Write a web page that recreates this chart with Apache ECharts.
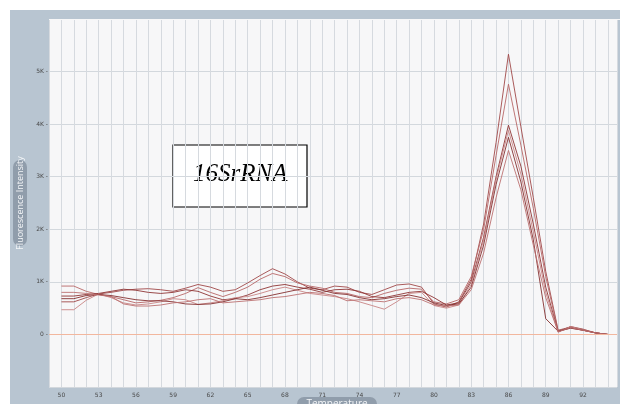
<!DOCTYPE html>
<html><head><meta charset="utf-8">
<script src="https://cdn.jsdelivr.net/npm/echarts@6/dist/echarts.min.js"></script>
<style>html,body{margin:0;padding:0;background:#fff}#c{width:620px;height:404px}</style>
</head><body><div id="c"></div>
<script>
var temps = [50,51,52,53,54,55,56,57,58,59,60,61,62,63,64,65,66,67,68,69,70,71,72,73,74,75,76,77,78,79,80,81,82,83,84,85,86,87,88,89,90,91,92,93,94];
var xTickLabels = [50,53,56,59,62,65,68,71,74,77,80,83,86,89,92];
var yTickLabels = ['0','1K','2K','3K','4K','5K'];
var curveA = [620,620,700,770,800,840,860,870,850,820,880,950,900,820,850,980,1120,1250,1150,1000,880,850,920,900,800,760,850,940,960,900,580,520,620,1050,2100,3650,5330,3950,2600,1200,80,140,80,30,0];
var curveB = [920,920,820,760,720,660,600,620,650,700,780,890,800,720,800,900,1050,1160,1100,980,920,880,800,780,720,700,780,840,880,860,620,580,660,1100,2000,3400,4760,3600,2400,1100,60,120,80,30,0];
var curveC = [730,730,760,780,820,860,840,800,780,800,850,820,730,660,680,750,850,920,950,900,860,800,850,860,820,720,700,750,800,820,700,560,600,1000,1850,3000,3980,3200,2100,900,50,150,100,30,0];
var curveD = [470,470,650,770,700,600,560,580,620,680,660,570,600,640,700,720,780,850,900,840,780,750,720,680,620,550,480,620,780,800,550,500,560,950,1800,2950,3880,3050,1950,800,40,150,90,30,0];
var curveE = [680,680,740,760,740,700,660,640,640,620,580,570,580,620,680,660,700,750,800,850,900,840,780,760,700,660,680,720,750,700,600,550,580,900,1700,2850,3750,2900,1800,300,60,120,80,30,0];
var curveF = [800,800,780,750,720,580,540,540,560,600,620,660,680,600,620,640,660,700,720,760,800,780,740,640,660,640,620,680,700,660,560,540,560,850,1550,2600,3500,2750,1700,700,50,130,80,30,0];
var curves = [curveA, curveB, curveC, curveD, curveE, curveF];
var colors = ['#a04848','#b86868','#8e3434','#c88484','#843030','#bc7070'];

function pairs(vals){ return temps.map(function(t,i){ return [t, vals[i]]; }); }

var series = curves.map(function(c, k){
  return { type:'line', data:pairs(c), symbol:'none', silent:true,
    lineStyle:{ color:colors[k], width:0.9 }, z:3 };
});
series.push({ type:'line', data:[], markLine:{ silent:true, symbol:'none', label:{show:false},
  lineStyle:{ color:'#f2b79e', type:'solid', width:1 }, data:[{ yAxis:0 }] } });

var chart = echarts.init(document.getElementById('c'), null, {renderer:'canvas'});
chart.setOption({
  animation:false,
  backgroundColor:'#fff',
  graphic:[
    { type:'rect', left:10, top:10, shape:{ width:610, height:394 }, style:{ fill:'#b8c5d1' }, z:-10 },
    { type:'rect', left:49, top:19, shape:{ width:571, height:1 }, style:{ fill:'#f7f7f8' }, z:1 },
    { type:'group', x:20, y:203, rotation:Math.PI/2, z:10, children:[
      { type:'rect', shape:{ x:-43, y:-7, width:86, height:14, r:7 }, style:{ fill:'#909dab' } },
      { type:'text', style:{ x:0, y:0, text:'Fluorescence Intensity', fill:'#f4f6f8', font:'9px "Open Sans", sans-serif', align:'center', verticalAlign:'middle' } }
    ]},
    { type:'group', x:337, y:404, z:10, children:[
      { type:'rect', shape:{ x:-40, y:-7, width:80, height:16, r:7 }, style:{ fill:'#909dab' } },
      { type:'text', style:{ x:0, y:0, text:'Temperature', fill:'#f4f6f8', font:'10px "Open Sans", sans-serif', align:'center', verticalAlign:'middle' } }
    ]},
    { type:'group', z:20, children:[
      { type:'rect', shape:{ x:173, y:145, width:134, height:62 }, style:{ fill:'#fff', stroke:'#000', lineWidth:1.2 } },
      { type:'text', style:{ x:193, y:174, text:'16SrRNA', fill:'#000', font:'italic 25px "Liberation Serif", "DejaVu Serif", serif', align:'left', verticalAlign:'middle' } }
    ]}
  ],
  grid:{ left:49, top:19, right:0, bottom:17, show:true, backgroundColor:'#f7f7f8', borderWidth:0 },
  xAxis:{ type:'value', min:49, max:94.74, interval:1,
    axisLine:{show:false}, axisTick:{show:false},
    splitLine:{ show:true, lineStyle:{ color:'#d6dadf', width:1 } },
    axisLabel:{ margin:5, fontSize:6, color:'#4a4a4a', fontFamily:'DejaVu Sans',
      formatter:function(v){ return xTickLabels.indexOf(v) >= 0 ? String(v) : ''; } } },
  yAxis:{ type:'value', min:-1000, max:6000, interval:1000,
    axisLine:{show:false},
    axisTick:{ show:false },
    splitLine:{ show:true, lineStyle:{ color:'#d3d8dd', width:1 } },
    axisLabel:{ margin:1, fontSize:6, color:'#4a4a4a', fontFamily:'DejaVu Sans',
      formatter:function(v){ var i = Math.round(v/1000); return (i>=0 && i<yTickLabels.length) ? yTickLabels[i] + ' -' : ''; } } },
  series:series
});
</script></body></html>
